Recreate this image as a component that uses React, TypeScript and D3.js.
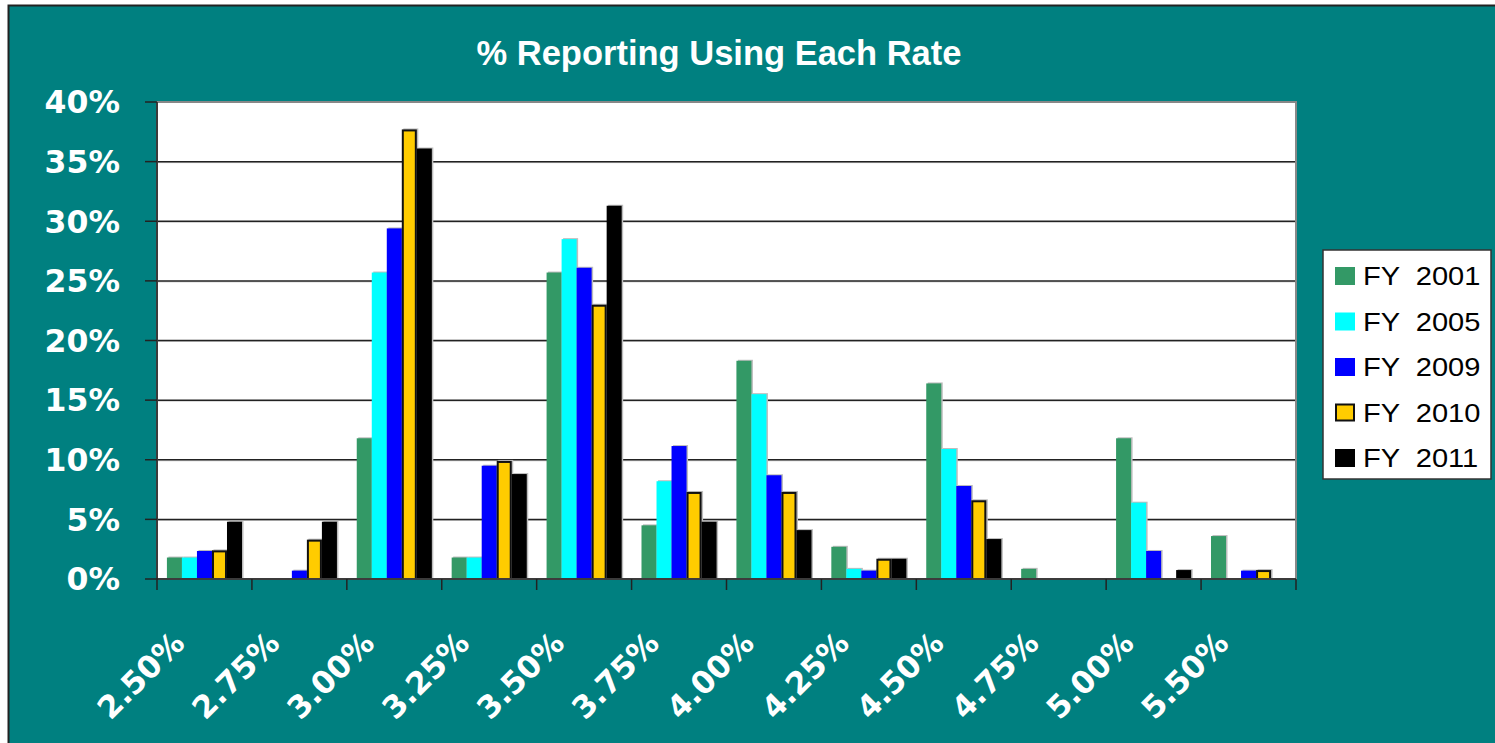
import * as d3 from "d3";
import { useEffect, useRef } from "react";

const categories = ["2.50%", "2.75%", "3.00%", "3.25%", "3.50%", "3.75%", "4.00%", "4.25%", "4.50%", "4.75%", "5.00%", "5.50%"];
const seriesNames = ["FY 2001", "FY 2005", "FY 2009", "FY 2010", "FY 2011"];
const fy2001 = [1.8, 0, 11.8, 1.8, 25.7, 4.5, 18.3, 2.7, 16.4, 0.85, 11.8, 3.6];
const fy2005 = [1.8, 0, 25.7, 1.8, 28.5, 8.2, 15.5, 0.85, 10.9, 0, 6.4, 0];
const fy2009 = [2.35, 0.7, 29.4, 9.5, 26.1, 11.15, 8.7, 0.7, 7.8, 0, 2.35, 0.7];
const fy2010 = [2.4, 3.3, 37.7, 9.9, 23.0, 7.3, 7.3, 1.7, 6.6, 0, 0, 0.75];
const fy2011 = [4.8, 4.8, 36.1, 8.8, 31.3, 4.8, 4.1, 1.7, 3.35, 0, 0.75, 0];
const yTicks = [0, 5, 10, 15, 20, 25, 30, 35, 40];
const colors = ["#339966", "#00ffff", "#0000ff", "#ffcc00", "#000000"];

const W = 1495;
const H = 743;
const plot = { left: 157, right: 1296, top: 102, bottom: 579 };

export default function App() {
  const ref = useRef<SVGSVGElement>(null);

  useEffect(() => {
    const svg = d3.select(ref.current);
    svg.selectAll("*").remove();

    const allSeries = [fy2001, fy2005, fy2009, fy2010, fy2011];

    const x = d3.scaleBand().domain(categories).range([plot.left, plot.right]);
    const xSub = d3
      .scaleBand()
      .domain(seriesNames)
      .range([0, x.bandwidth()])
      .paddingInner(0)
      .paddingOuter(0.66);
    const y = d3.scaleLinear().domain([0, 40]).range([plot.bottom, plot.top]);

    // background + outer frame
    svg.append("rect").attr("width", W).attr("height", H).attr("fill", "#ffffff");
    svg
      .append("rect")
      .attr("x", 8.5)
      .attr("y", 5.5)
      .attr("width", W + 10)
      .attr("height", H + 10)
      .attr("fill", "#008080")
      .attr("stroke", "#222")
      .attr("stroke-width", 2);

    // title
    svg
      .append("text")
      .attr("x", 719)
      .attr("y", 65)
      .attr("text-anchor", "middle")
      .attr("fill", "#fff")
      .style("font-family", "'Liberation Sans', Arial, sans-serif")
      .style("font-weight", "bold")
      .style("font-size", "34.5px")
      .text("% Reporting Using Each Rate");

    // plot area
    svg
      .append("rect")
      .attr("x", plot.left)
      .attr("y", plot.top)
      .attr("width", plot.right - plot.left)
      .attr("height", plot.bottom - plot.top)
      .attr("fill", "#fff");

    // gridlines
    const grid = svg.append("g");
    yTicks
      .filter((t) => t > 0 && t < 40)
      .forEach((t) => {
        grid
          .append("line")
          .attr("x1", plot.left)
          .attr("x2", plot.right)
          .attr("y1", y(t) + 1)
          .attr("y2", y(t) + 1)
          .attr("stroke", "#c8c8c8")
          .attr("stroke-width", 1);
        grid
          .append("line")
          .attr("x1", plot.left)
          .attr("x2", plot.right)
          .attr("y1", y(t))
          .attr("y2", y(t))
          .attr("stroke", "#222")
          .attr("stroke-width", 1.5);
      });

    // bars
    const bars = svg.append("g");
    allSeries.forEach((vals, si) => {
      const name = seriesNames[si];
      vals.forEach((v, ci) => {
        if (v <= 0) return;
        const bx = (x(categories[ci]) as number) + (xSub(name) as number);
        const bw = xSub.bandwidth();
        const top = y(v);
        bars
          .append("rect")
          .attr("x", bx + 1.5)
          .attr("y", top - 1)
          .attr("width", bw)
          .attr("height", plot.bottom - top + 1)
          .attr("fill", "#bdbdbd");
        const r = bars
          .append("rect")
          .attr("x", bx)
          .attr("y", top)
          .attr("width", bw)
          .attr("height", plot.bottom - top)
          .attr("fill", colors[si]);
        if (si === 3) {
          r.attr("x", bx + 1)
            .attr("y", top + 1)
            .attr("width", bw - 2)
            .attr("height", Math.max(0, plot.bottom - top - 1))
            .attr("stroke", "#111")
            .attr("stroke-width", 2);
        }
      });
    });

    // plot border
    svg
      .append("rect")
      .attr("x", plot.left)
      .attr("y", plot.top)
      .attr("width", plot.right - plot.left)
      .attr("height", plot.bottom - plot.top)
      .attr("fill", "none")
      .attr("stroke", "#888")
      .attr("stroke-width", 2);

    // y axis
    const yAxis = svg.append("g");
    yAxis
      .append("line")
      .attr("x1", plot.left)
      .attr("x2", plot.left)
      .attr("y1", plot.top)
      .attr("y2", plot.bottom)
      .attr("stroke", "#222")
      .attr("stroke-width", 1.5);
    yTicks.forEach((t) => {
      yAxis
        .append("line")
        .attr("x1", plot.left - 12)
        .attr("x2", plot.left)
        .attr("y1", y(t))
        .attr("y2", y(t))
        .attr("stroke", "#222")
        .attr("stroke-width", 1.5);
      yAxis
        .append("text")
        .attr("x", 120)
        .attr("y", y(t))
        .attr("dy", "0.36em")
        .attr("text-anchor", "end")
        .attr("fill", "#fff")
        .style("font-family", "'DejaVu Sans', Verdana, sans-serif")
        .style("font-weight", "bold")
        .style("font-size", "31.5px")
        .text(`${t}%`);
    });

    // x axis
    const xAxis = svg.append("g");
    xAxis
      .append("line")
      .attr("x1", plot.left)
      .attr("x2", plot.right)
      .attr("y1", plot.bottom)
      .attr("y2", plot.bottom)
      .attr("stroke", "#222")
      .attr("stroke-width", 1.5);
    const edges = categories.map((c) => x(c) as number).concat([plot.right]);
    edges.forEach((ex) => {
      xAxis
        .append("line")
        .attr("x1", ex)
        .attr("x2", ex)
        .attr("y1", plot.bottom)
        .attr("y2", plot.bottom + 11)
        .attr("stroke", "#222")
        .attr("stroke-width", 1.5);
    });
    categories.forEach((c) => {
      const cx = (x(c) as number) + x.bandwidth() / 2 - 18;
      const cy = 645;
      xAxis
        .append("text")
        .attr("transform", `translate(${cx},${cy}) rotate(-45)`)
        .attr("text-anchor", "end")
        .attr("fill", "#fff")
        .style("font-family", "'DejaVu Sans', Verdana, sans-serif")
        .style("font-weight", "bold")
        .style("font-size", "31px")
        .text(c);
    });

    // legend
    const legend = svg.append("g");
    legend
      .append("rect")
      .attr("x", 1323)
      .attr("y", 250)
      .attr("width", 168)
      .attr("height", 229)
      .attr("fill", "#fff")
      .attr("stroke", "#333")
      .attr("stroke-width", 1.5);
    const rowY = d3.scalePoint().domain(seriesNames).range([276, 458]);
    seriesNames.forEach((name, i) => {
      const ry = rowY(name) as number;
      legend
        .append("rect")
        .attr("x", i === 3 ? 1336 : 1335)
        .attr("y", i === 3 ? ry - 8 : ry - 9)
        .attr("width", i === 3 ? 18 : 20)
        .attr("height", i === 3 ? 16 : 18)
        .attr("fill", colors[i])
        .attr("stroke", i === 3 ? "#111" : "none")
        .attr("stroke-width", 2);
      legend
        .append("text")
        .attr("transform", `translate(1363,${ry + 9}) scale(1.14,1)`)
        .attr("fill", "#000")
        .style("font-family", "'Liberation Sans', Arial, sans-serif")
        .style("font-size", "25.5px")
        .style("white-space", "pre")
        .text(name.replace(" ", "  "));
    });
  }, []);

  return (
    <svg
      ref={ref}
      width={W}
      height={H}
      style={{ position: "absolute", left: 0, top: 0, display: "block" }}
    ></svg>
  );
}
